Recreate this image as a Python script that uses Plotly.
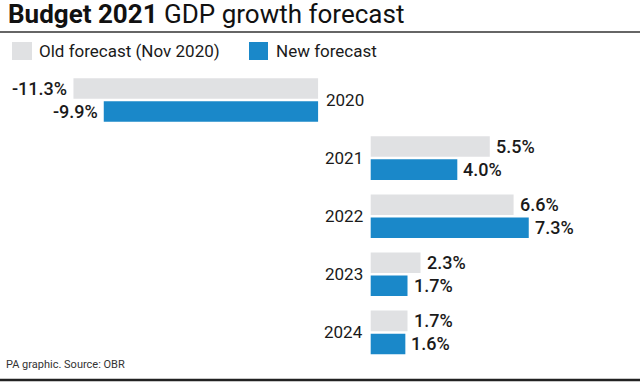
import plotly.graph_objects as go

categories = ["2020", "2021", "2022", "2023", "2024"]
old_forecast = [-11.3, 5.5, 6.6, 2.3, 1.7]
new_forecast = [-9.9, 4.0, 7.3, 1.7, 1.6]
series_names = ["Old forecast (Nov 2020)", "New forecast"]

W, H = 640, 389
PX_PER_UNIT = 21.65
ZERO_PX = 370.7
NEG_GAP = 2.43  # gap (in data units) between negative bars and zero line
GRAY = "#e0e1e3"
BLUE = "#1a88c9"
TXT = "#1a1a1a"
FONT = "Roboto"

def bases(vals):
    return [-NEG_GAP if v < 0 else 0 for v in vals]

fig = go.Figure()
for name, vals, col in [(series_names[0], old_forecast, GRAY), (series_names[1], new_forecast, BLUE)]:
    fig.add_trace(go.Bar(
        y=categories, x=vals, base=bases(vals), orientation="h",
        marker=dict(color=col, line=dict(width=0)), name=name,
        showlegend=False, hoverinfo="skip",
    ))

bargap = 0.207
bargroupgap = 0.109
slot = (1 - bargap) / 2
annotations = []
for si, vals in enumerate([old_forecast, new_forecast]):
    off = -slot / 2 if si == 0 else slot / 2
    for i, v in enumerate(vals):
        b = -NEG_GAP if v < 0 else 0
        end = b + v
        annotations.append(dict(
            x=end, y=i + off, xref="x", yref="y", text=f"{v:.1f}%",
            showarrow=False, xanchor="left" if v >= 0 else "right",
            xshift=4 if v >= 0 else -4, yanchor="middle",
            font=dict(family=FONT, size=18, color=TXT, weight=500),
        ))

for i, c in enumerate(categories):
    neg = old_forecast[i] < 0
    annotations.append(dict(
        x=-NEG_GAP if neg else 0, y=i, xref="x", yref="y", text=c,
        showarrow=False, xanchor="left" if neg else "right",
        xshift=6 if neg else -6, yanchor="middle",
        font=dict(family=FONT, size=17, color=TXT),
    ))

# title
annotations.append(dict(
    x=6 / W, y=1 - 14 / H, xref="paper", yref="paper", showarrow=False,
    text="<b>Budget 2021</b> GDP growth forecast", xanchor="left", yanchor="middle",
    font=dict(family=FONT, size=26, color="#111111"),
))
# legend
leg = [(12, 32, 37, series_names[0], GRAY), (249, 268, 274, series_names[1], BLUE)]
shapes = []
for x0, x1, tx, name, col in leg:
    shapes.append(dict(type="rect", xref="paper", yref="paper",
                       x0=x0 / W, x1=x1 / W, y0=1 - 60 / H, y1=1 - 42 / H,
                       fillcolor=col, line=dict(width=0)))
    annotations.append(dict(x=tx / W, y=1 - 51 / H, xref="paper", yref="paper",
                            text=name, showarrow=False, xanchor="left", yanchor="middle",
                            font=dict(family=FONT, size=17, color=TXT)))
# footer
annotations.append(dict(x=4 / W, y=1 - 364 / H, xref="paper", yref="paper",
                        text="PA graphic. Source: OBR", showarrow=False,
                        xanchor="left", yanchor="middle",
                        font=dict(family=FONT, size=11, color="#333333")))
# rules
shapes.append(dict(type="line", xref="paper", yref="paper", x0=0, x1=1,
                   y0=1 - 32 / H, y1=1 - 32 / H, line=dict(color="#333333", width=1.5)))
shapes.append(dict(type="line", xref="paper", yref="paper", x0=0, x1=1,
                   y0=1 - 380 / H, y1=1 - 380 / H, line=dict(color="#222222", width=2.5)))

x_lo = -ZERO_PX / PX_PER_UNIT
x_hi = (W - ZERO_PX) / PX_PER_UNIT
y_px_per = 58.1
y_top = -100 / y_px_per
y_bot = (H - 100) / y_px_per

fig.update_layout(
    width=W, height=H, margin=dict(l=0, r=0, t=0, b=0),
    paper_bgcolor="white", plot_bgcolor="white",
    barmode="group", bargap=bargap, bargroupgap=bargroupgap,
    xaxis=dict(range=[x_lo, x_hi], visible=False, fixedrange=True),
    yaxis=dict(type="category", range=[y_bot, y_top], visible=False, fixedrange=True),
    annotations=annotations, shapes=shapes,
)
fig.write_html("out.html", config={"displayModeBar": False},
               post_script="document.body.style.margin='0';")
